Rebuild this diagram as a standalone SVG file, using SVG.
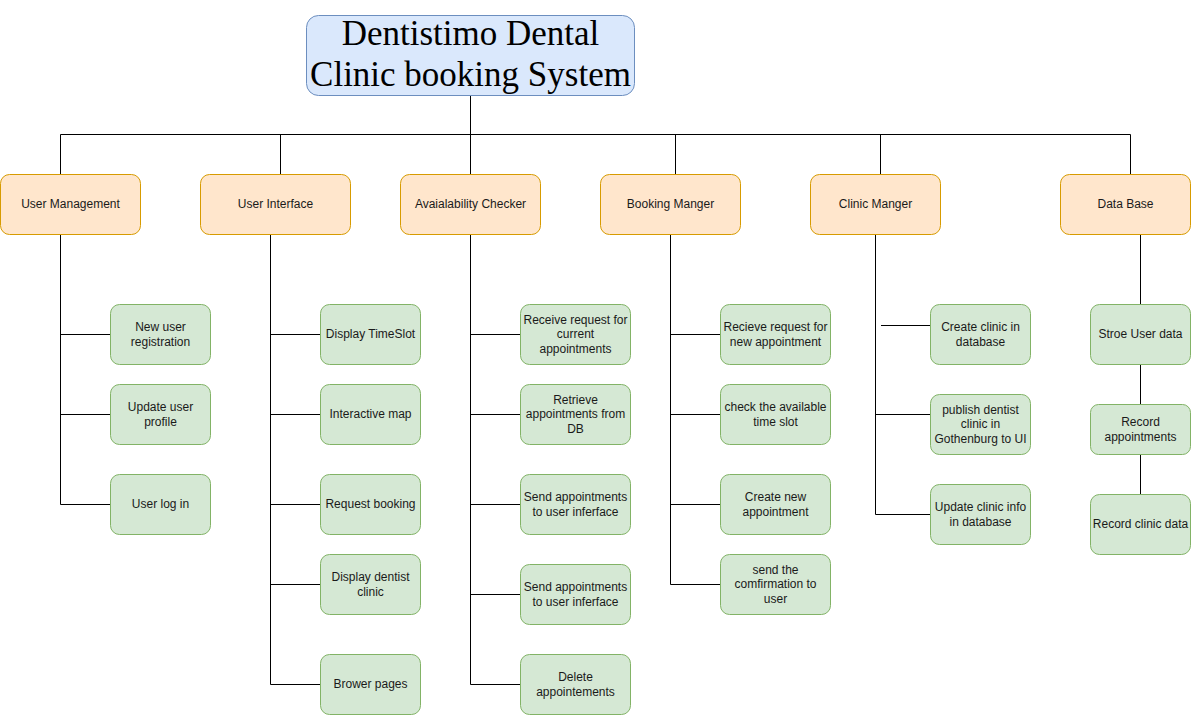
<svg xmlns="http://www.w3.org/2000/svg" width="1191" height="715" viewBox="0 0 1191 715">
<style>
.title{fill:#dae8fc;stroke:#6c8ebf;stroke-width:1}
.head{fill:#ffe6cc;stroke:#d79b00;stroke-width:1}
.leaf{fill:#d5e8d4;stroke:#82b366;stroke-width:1}
.t{font-family:"Liberation Sans",Arial,sans-serif;font-size:12px;fill:#1a1a1a;text-anchor:middle}
.tt{font-family:"Liberation Serif","Times New Roman",serif;font-size:35px;fill:#000;text-anchor:middle}
#connectors path{fill:none;stroke:#000;stroke-width:1}
</style>
<rect width="1191" height="715" fill="#fff"/>
<g id="connectors">
<path d="M470.5 95.5V134.5M60.5 175V134.5H1130.5V175M280.5 134.5V175M470.5 134.5V175M675.5 134.5V175M880.5 134.5V175"/>
<path d="M60.5 234.5V504.5M60.5 334.5H110.5M60.5 414.5H110.5M60.5 504.5H110.5"/>
<path d="M270.5 234.5V684.5M270.5 334.5H320.5M270.5 414.5H320.5M270.5 504.5H320.5M270.5 584.5H320.5M270.5 684.5H320.5"/>
<path d="M470.5 234.5V684.5M470.5 334.5H520.5M470.5 414.5H520.5M470.5 504.5H520.5M470.5 594.5H520.5M470.5 684.5H520.5"/>
<path d="M670.5 234.5V584.5M670.5 334.5H720.5M670.5 414.5H720.5M670.5 504.5H720.5M670.5 584.5H720.5"/>
<path d="M875.5 234.5V514.5M875.5 414.5H930.5M875.5 514.5H930.5M881 325.5H930.5"/>
<path d="M1140.5 234.5V304.5M1140.5 364.5V404.5M1140.5 454.5V494.5"/>
</g>
<g id="title"><rect class="title" x="306.5" y="15.5" width="328" height="80" rx="12"/>
<text class="tt" x="470.5" y="45">Dentistimo Dental</text><text class="tt" x="470.5" y="86">Clinic booking System</text></g>
<g id="h1"><rect class="head" x="0.5" y="174.5" width="140" height="60" rx="9"/><text class="t" x="70.5" y="208">User Management</text></g>
<g id="h2"><rect class="head" x="200.5" y="174.5" width="150" height="60" rx="9"/><text class="t" x="275.5" y="208">User Interface</text></g>
<g id="h3"><rect class="head" x="400.5" y="174.5" width="140" height="60" rx="9"/><text class="t" x="470.5" y="208">Avaialability Checker</text></g>
<g id="h4"><rect class="head" x="600.5" y="174.5" width="140" height="60" rx="9"/><text class="t" x="670.5" y="208">Booking Manger</text></g>
<g id="h5"><rect class="head" x="810.5" y="174.5" width="130" height="60" rx="9"/><text class="t" x="875.5" y="208">Clinic Manger</text></g>
<g id="h6"><rect class="head" x="1060.5" y="174.5" width="130" height="60" rx="9"/><text class="t" x="1125.5" y="208">Data Base</text></g>

<g id="um1"><rect class="leaf" x="110.5" y="304.5" width="100" height="60" rx="9"/><text class="t" x="160.5" y="331">New user</text><text class="t" x="160.5" y="346">registration</text></g>
<g id="um2"><rect class="leaf" x="110.5" y="384.5" width="100" height="60" rx="9"/><text class="t" x="160.5" y="411">Update user</text><text class="t" x="160.5" y="426">profile</text></g>
<g id="um3"><rect class="leaf" x="110.5" y="474.5" width="100" height="60" rx="9"/><text class="t" x="160.5" y="508">User log in</text></g>

<g id="ui1"><rect class="leaf" x="320.5" y="304.5" width="100" height="60" rx="9"/><text class="t" x="370.5" y="338">Display TimeSlot</text></g>
<g id="ui2"><rect class="leaf" x="320.5" y="384.5" width="100" height="60" rx="9"/><text class="t" x="370.5" y="418">Interactive map</text></g>
<g id="ui3"><rect class="leaf" x="320.5" y="474.5" width="100" height="60" rx="9"/><text class="t" x="370.5" y="508">Request booking</text></g>
<g id="ui4"><rect class="leaf" x="320.5" y="554.5" width="100" height="60" rx="9"/><text class="t" x="370.5" y="581">Display dentist</text><text class="t" x="370.5" y="596">clinic</text></g>
<g id="ui5"><rect class="leaf" x="320.5" y="654.5" width="100" height="60" rx="9"/><text class="t" x="370.5" y="688">Brower pages</text></g>

<g id="ac1"><rect class="leaf" x="520.5" y="304.5" width="110" height="60" rx="9"/><text class="t" x="575.5" y="323.5">Receive request for</text><text class="t" x="575.5" y="338">current</text><text class="t" x="575.5" y="352.5">appointments</text></g>
<g id="ac2"><rect class="leaf" x="520.5" y="384.5" width="110" height="60" rx="9"/><text class="t" x="575.5" y="403.5">Retrieve</text><text class="t" x="575.5" y="418">appointments from</text><text class="t" x="575.5" y="432.5">DB</text></g>
<g id="ac3"><rect class="leaf" x="520.5" y="474.5" width="110" height="60" rx="9"/><text class="t" x="575.5" y="501">Send appointments</text><text class="t" x="575.5" y="516">to user inferface</text></g>
<g id="ac4"><rect class="leaf" x="520.5" y="564.5" width="110" height="60" rx="9"/><text class="t" x="575.5" y="591">Send appointments</text><text class="t" x="575.5" y="606">to user inferface</text></g>
<g id="ac5"><rect class="leaf" x="520.5" y="654.5" width="110" height="60" rx="9"/><text class="t" x="575.5" y="681">Delete</text><text class="t" x="575.5" y="696">appointements</text></g>

<g id="bm1"><rect class="leaf" x="720.5" y="304.5" width="110" height="60" rx="9"/><text class="t" x="775.5" y="331">Recieve request for</text><text class="t" x="775.5" y="346">new appointment</text></g>
<g id="bm2"><rect class="leaf" x="720.5" y="384.5" width="110" height="60" rx="9"/><text class="t" x="775.5" y="411">check the available</text><text class="t" x="775.5" y="426">time slot</text></g>
<g id="bm3"><rect class="leaf" x="720.5" y="474.5" width="110" height="60" rx="9"/><text class="t" x="775.5" y="501">Create new</text><text class="t" x="775.5" y="516">appointment</text></g>
<g id="bm4"><rect class="leaf" x="720.5" y="554.5" width="110" height="60" rx="9"/><text class="t" x="775.5" y="573.5">send the</text><text class="t" x="775.5" y="588">comfirmation to</text><text class="t" x="775.5" y="602.5">user</text></g>

<g id="cm1"><rect class="leaf" x="930.5" y="304.5" width="100" height="60" rx="9"/><text class="t" x="980.5" y="331">Create clinic in</text><text class="t" x="980.5" y="346">database</text></g>
<g id="cm2"><rect class="leaf" x="930.5" y="394.5" width="100" height="60" rx="9"/><text class="t" x="980.5" y="413.5">publish dentist</text><text class="t" x="980.5" y="428">clinic in</text><text class="t" x="980.5" y="442.5">Gothenburg to UI</text></g>
<g id="cm3"><rect class="leaf" x="930.5" y="484.5" width="100" height="60" rx="9"/><text class="t" x="980.5" y="511">Update clinic info</text><text class="t" x="980.5" y="526">in database</text></g>

<g id="db1"><rect class="leaf" x="1090.5" y="304.5" width="100" height="60" rx="9"/><text class="t" x="1140.5" y="338">Stroe User data</text></g>
<g id="db2"><rect class="leaf" x="1090.5" y="404.5" width="100" height="50" rx="8"/><text class="t" x="1140.5" y="426">Record</text><text class="t" x="1140.5" y="441">appointments</text></g>
<g id="db3"><rect class="leaf" x="1090.5" y="494.5" width="100" height="60" rx="9"/><text class="t" x="1140.5" y="528">Record clinic data</text></g>
</svg>
